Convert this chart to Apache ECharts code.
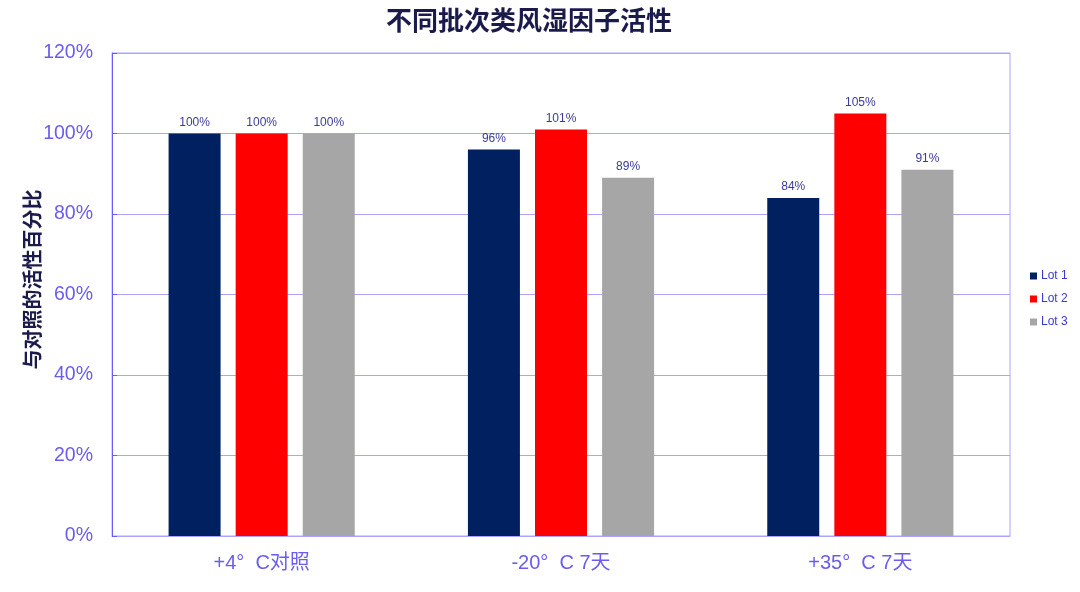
<!DOCTYPE html>
<html><head><meta charset="utf-8">
<script src="https://cdn.jsdelivr.net/npm/echarts@6/dist/echarts.min.js"></script>
<style>html,body{margin:0;padding:0;background:#fff}#c{width:1080px;height:592px}</style>
</head><body><div id="c"></div>
<script>
const categories = ['+4°  C对照', '-20°  C 7天', '+35°  C 7天'];
const seriesNames = ['Lot 1', 'Lot 2', 'Lot 3'];
const lot1 = [100, 96, 84];
const lot2 = [100, 101, 105];
const lot3 = [100, 89, 91];
const colors = ['#002060', '#ff0000', '#a6a6a6'];
const font = '"Liberation Sans", Arial, "Noto Sans CJK SC", sans-serif';
const chart = echarts.init(document.getElementById('c'));
const mk = (name, data, color) => ({
  name, type: 'bar', data, barWidth: 52, barGap: '29%',
  itemStyle: { color },
  label: { show: true, position: 'top', distance: 5, formatter: '{c}%', color: '#3a3a9a', fontSize: 12, fontFamily: font }
});
chart.setOption({
  animation: false,
  textStyle: { fontFamily: font },
  title: { text: '不同批次类风湿因子活性', left: 524, top: 2, textAlign: 'center',
    textStyle: { fontSize: 26, fontWeight: 'bold', color: '#1b1b4b', fontFamily: '"Noto Sans CJK SC", sans-serif' } },
  legend: { orient: 'vertical', left: 1025, top: 265, itemWidth: 7, itemHeight: 7, itemGap: 11,
    icon: 'rect', textStyle: { color: '#3a3ad0', fontSize: 12, fontFamily: font, padding: [0, 0, 0, -1] },
    data: seriesNames },
  grid: { left: 112, right: 70, top: 53, bottom: 56, show: true, borderColor: '#aaa4ff', borderWidth: 1 },
  xAxis: { type: 'category', data: categories,
    axisLine: { lineStyle: { color: '#aaa4ff' } }, axisTick: { show: false },
    axisLabel: { color: '#6a5cf0', fontSize: 20, margin: 17, fontFamily: font } },
  yAxis: { type: 'value', min: 0, max: 120, interval: 20,
    name: '与对照的活性百分比', nameLocation: 'middle', nameGap: 70, nameMoveOverlap: false,
    nameTextStyle: { fontSize: 20, fontWeight: 'bold', color: '#1b1b4b', padding: [0, 0, 0, 30], fontFamily: '"Noto Sans CJK SC", sans-serif' },
    axisLine: { show: true, lineStyle: { color: '#6a5cff' } },
    axisTick: { show: true, inside: true, length: 5, lineStyle: { color: '#6a5cff' } },
    splitLine: { lineStyle: { color: '#aaa4ff' } },
    axisLabel: { formatter: '{value}%', color: '#6a5cf0', fontSize: 19.5, margin: 19, fontFamily: font } },
  series: [mk(seriesNames[0], lot1, colors[0]), mk(seriesNames[1], lot2, colors[1]), mk(seriesNames[2], lot3, colors[2])]
});
</script></body></html>
